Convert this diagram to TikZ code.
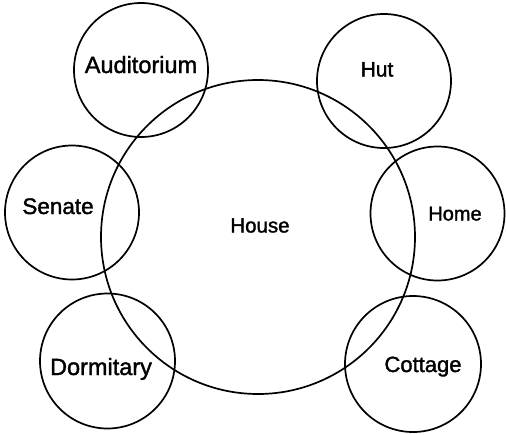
\documentclass[tikz,border=0pt]{standalone}
\usepackage{fontspec}
\setmainfont{Liberation Sans}
\newfontfamily\heavyfont[FakeBold=1.5]{Liberation Sans}
\begin{document}
\begin{tikzpicture}[x=1pt,y=-1pt,
  ring/.style={draw=black,line width=1.7pt,circle,inner sep=0pt,minimum size=#1},
  lbl/.style={inner sep=0pt,text=black}]
\useasboundingbox (0,0) rectangle (506,434);
\node[ring=314pt] (house) at (258,237) {};
\node[ring=134pt] (audc) at (141,70) {};
\node[ring=134pt] (hutc) at (384,81) {};
\node[ring=134pt] (senc) at (72,212.5) {};
\node[ring=134pt] (homec) at (437.5,213.5) {};
\node[ring=135pt] (dormc) at (107.5,361) {};
\node[ring=136pt] (cotc) at (413,364) {};
\node[lbl,anchor=base] (aud) at (141,73) {\heavyfont\fontsize{23.5}{26}\selectfont Auditorium};
\node[lbl,anchor=base] (hut) at (377,76.5) {\heavyfont\fontsize{21}{24}\selectfont Hut};
\node[lbl,anchor=base] (sen) at (58,214) {\heavyfont\fontsize{22.5}{26}\selectfont Senate};
\node[lbl,anchor=base] (hs) at (260,232.5) {\heavyfont\fontsize{20.5}{24}\selectfont House};
\node[lbl,anchor=base] (home) at (455,220.5) {\heavyfont\fontsize{20}{24}\selectfont Home};
\node[lbl,anchor=base] (dorm) at (101,375) {\heavyfont\fontsize{23.5}{26}\selectfont Dormitary};
\node[lbl,anchor=base] (cot) at (423,372) {\heavyfont\fontsize{22}{26}\selectfont Cottage};
\end{tikzpicture}
\end{document}
